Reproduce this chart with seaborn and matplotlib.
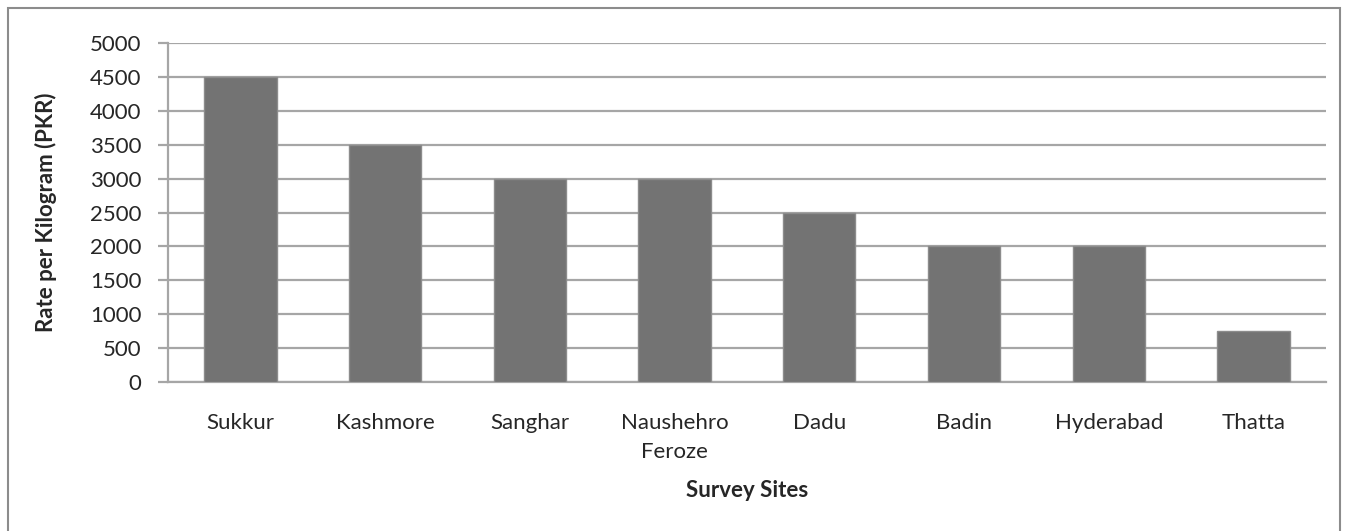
import numpy as np
import seaborn as sns
import matplotlib.pyplot as plt
import pandas as pd
from matplotlib.patches import Rectangle

sites = ['Sukkur', 'Kashmore', 'Sanghar', 'Naushehro\nFeroze', 'Dadu', 'Badin', 'Hyderabad', 'Thatta']
rates = [4500, 3500, 3000, 3000, 2500, 2000, 2000, 750]
y_ticks = [0, 500, 1000, 1500, 2000, 2500, 3000, 3500, 4000, 4500, 5000]

df = pd.DataFrame({'site': sites, 'rate': rates})

sns.set_style('white')
plt.rcParams['font.family'] = ['Lato', 'DejaVu Sans']

fig = plt.figure(figsize=(13.48, 5.31), dpi=100)
ax = fig.add_axes([0.1246, 0.2806, 0.859, 0.6384])

grid_c = '#a6a6a6'
sns.barplot(data=df, x='site', y='rate', color='#737373', width=0.5,
            saturation=1, edgecolor='#8c8c8c', linewidth=1, ax=ax, zorder=3)

ax.set_ylim(0, 5000)
ax.set_xlim(-0.5, len(sites) - 0.5)
ax.set_yticks(y_ticks)
ax.set_yticklabels([str(v) for v in y_ticks], fontsize=16)
ax.yaxis.grid(True, color=grid_c, linewidth=1.6, zorder=0)
ax.set_axisbelow(True)

ax.set_xticks(range(len(sites)))
ax.set_xticklabels(sites, fontsize=16, linespacing=1.6)
ax.set_xticks(np.arange(-0.5, len(sites)), minor=True)
ax.tick_params(axis='x', which='major', length=0, pad=22)
ax.tick_params(axis='x', which='minor', length=7, width=1.6, color=grid_c, direction='out')
ax.tick_params(axis='y', length=7, width=1.6, color=grid_c, direction='out', pad=12, left=True)

for s in ['top', 'right']:
    ax.spines[s].set_visible(False)
for s in ['left', 'bottom']:
    ax.spines[s].set_color(grid_c)
    ax.spines[s].set_linewidth(1.6)

ax.set_xlabel('Survey Sites', fontsize=16, fontweight='bold', labelpad=13)
ax.set_ylabel('Rate per Kilogram (PKR)', fontsize=16, fontweight='bold', labelpad=24)

fig.patches.append(Rectangle((8 / 1348, -0.05), 1332 / 1348, 1 - 8 / 531 + 0.05,
                             transform=fig.transFigure, fill=False,
                             edgecolor='#8c8c8c', linewidth=1.5))

fig.savefig('out.png', dpi=100)
